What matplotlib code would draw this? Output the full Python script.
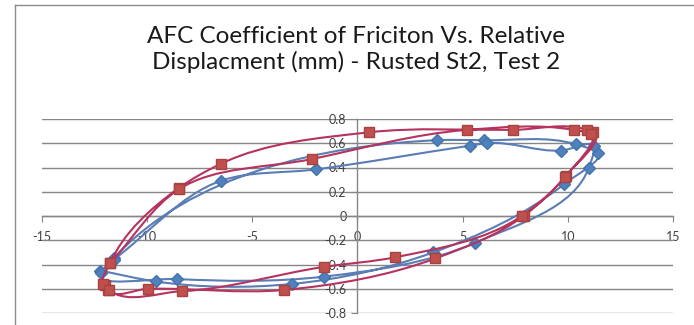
import numpy as np
import matplotlib
matplotlib.use("Agg")
import matplotlib.pyplot as plt
from matplotlib.path import Path
from matplotlib.patches import PathPatch
from matplotlib.lines import Line2D


#Data (two cycles per series, in test order)

blue_x = [-12.24, -9.6, -3.1, 3.6, 9.8, 11.45, 10.4, 6.0, 3.8, -11.6,
          -12.2, -8.6, -1.6, 5.6, 11.0, 11.25, 9.67, 6.14, 5.35, -1.95, -6.5, -11.6]
blue_y = [-0.45, -0.54, -0.56, -0.30, 0.26, 0.52, 0.59, 0.625, 0.625, -0.35,
          -0.47, -0.52, -0.50, -0.22, 0.40, 0.58, 0.54, 0.60, 0.58, 0.385, 0.29, -0.36]

red_x = [-12.0, -11.86, -9.95, -3.5, 3.7, 7.9, 9.9, 11.2, 10.9, 7.37, 0.54, -6.5, -8.5, -11.76,
         -12.1, -11.8, -8.35, -1.6, 1.8, 7.8, 9.85, 11.1, 10.27, 5.19, -2.16, -8.5, -11.76]
red_y = [-0.57, -0.61, -0.60, -0.61, -0.35, 0.0, 0.33, 0.69, 0.71, 0.71, 0.69, 0.43, 0.23, -0.39,
         -0.56, -0.61, -0.62, -0.42, -0.34, 0.0, 0.32, 0.68, 0.71, 0.71, 0.47, 0.22, -0.39]

title = "AFC Coefficient of Friciton Vs. Relative\nDisplacment (mm) - Rusted St2, Test 2"
x_ticks = [-15, -10, -5, 0, 5, 10, 15]
y_ticks = [-0.8, -0.6, -0.4, -0.2, 0, 0.2, 0.4, 0.6, 0.8]

BLUE = "#4F81BD"
RED = "#C0504D"
GRAY = "#868686"
TXT = "#404040"

SX, SY = 631 / 30, 194 / 1.6    #px per data unit, used so the smoothing works in screen space


def smooth_path(xs, ys, alpha=1.0):
    #"scatter with smooth lines": chordal catmull-rom turned into bezier segments
    pts = np.column_stack([np.array(xs) * SX, np.array(ys) * SY])
    n = len(pts)
    verts = [pts[0]]
    codes = [Path.MOVETO]
    for i in range(n - 1):
        p1, p2 = pts[i], pts[i + 1]
        p0 = pts[i - 1] if i > 0 else 2 * p1 - p2
        p3 = pts[i + 2] if i + 2 < n else 2 * p2 - p1
        d0 = max(np.linalg.norm(p1 - p0), 1e-6) ** alpha
        d1 = max(np.linalg.norm(p2 - p1), 1e-6) ** alpha
        d2 = max(np.linalg.norm(p3 - p2), 1e-6) ** alpha
        m1 = ((p1 - p0) / d0 - (p2 - p0) / (d0 + d1) + (p2 - p1) / d1) * d1
        m2 = ((p2 - p1) / d1 - (p3 - p1) / (d1 + d2) + (p3 - p2) / d2) * d1
        verts += [p1 + m1 / 3, p2 - m2 / 3, p2]
        codes += [Path.CURVE4] * 3
    verts = np.array(verts) / [SX, SY]
    return Path(verts, codes)


fig = plt.figure(figsize=(6.94, 3.25), dpi=100)
fig.patch.set_facecolor("white")

ax = fig.add_axes([42/694, 1 - 313/325, (673 - 42)/694, (313 - 119)/325])
ax.set_xlim(-15, 15)
ax.set_ylim(-0.8, 0.8)

for side in ["top", "right"]:
    ax.spines[side].set_visible(False)
ax.spines["left"].set_position(("data", 0))
ax.spines["bottom"].set_position(("data", 0))
for side in ["left", "bottom"]:
    ax.spines[side].set_color(GRAY)
    ax.spines[side].set_linewidth(1)

ax.set_xticks(x_ticks)
ax.set_yticks(y_ticks)
ax.set_xticklabels([str(v) for v in x_ticks])
ax.set_yticklabels(["0" if v == 0 else f"{v:.1f}" for v in y_ticks])
ax.tick_params(axis="x", direction="out", length=4, color=GRAY, pad=7,
               labelsize=9, labelcolor=TXT)
ax.tick_params(axis="y", direction="out", length=4, color=GRAY, pad=4,
               labelsize=9, labelcolor=TXT)
for lbl in ax.get_xticklabels() + ax.get_yticklabels():
    lbl.set_family("Lato")
ax.yaxis.grid(True, color=GRAY, linewidth=1)
ax.set_axisbelow(True)

#blue series
ax.add_patch(PathPatch(smooth_path(blue_x, blue_y), facecolor="none",
                       edgecolor="#5A7DB5", linewidth=1.5, zorder=3))
ax.plot(blue_x, blue_y, linestyle="none", marker="D", markersize=5.8,
        color=BLUE, markeredgecolor="#4573AD", zorder=4)

#red series
ax.add_patch(PathPatch(smooth_path(red_x, red_y), facecolor="none",
                       edgecolor="#B5335C", linewidth=1.5, zorder=5))
ax.plot(red_x, red_y, linestyle="none", marker="s", markersize=7.5,
        color=RED, markeredgecolor="#A84240", zorder=6)

fig.text(0.513, 1 - 26/325, title, ha="center", va="top", fontsize=17.5,
         family="Lato", color="#1a1a1a", linespacing=1.2)

#chart area outline
fig.add_artist(Line2D([15/694, 15/694], [0, 1 - 5/325], color="#8c8c8c", linewidth=1))
fig.add_artist(Line2D([15/694, 1], [1 - 5/325, 1 - 5/325], color="#8c8c8c", linewidth=1))

fig.savefig("out.png", dpi=100)
